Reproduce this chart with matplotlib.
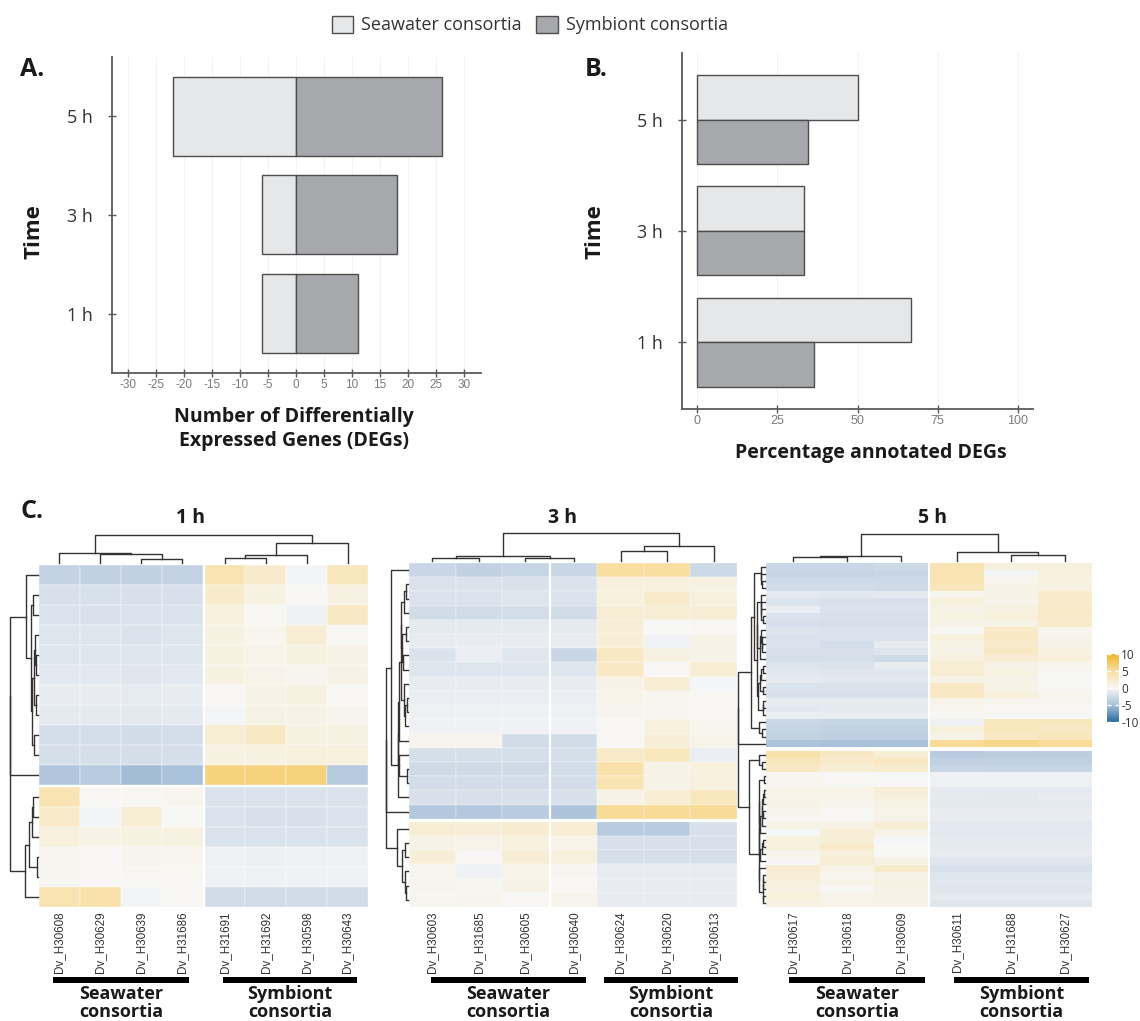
import numpy as np
import matplotlib
matplotlib.use("Agg")
import matplotlib.pyplot as plt
from matplotlib.colors import LinearSegmentedColormap, Normalize
from matplotlib.patches import Patch, Rectangle

plt.rcParams['font.family'] = ['Open Sans', 'DejaVu Sans']
plt.rcParams['axes.unicode_minus'] = False

# ---------------- data ----------------
times = ['1 h', '3 h', '5 h']
deg_seawater = [6, 6, 22]
deg_symbiont = [11, 18, 26]
pct_seawater = [66.7, 33.3, 50.0]
pct_symbiont = [36.4, 33.3, 34.6]

cols_1h = ['Dv_H30608', 'Dv_H30629', 'Dv_H30639', 'Dv_H31686',
           'Dv_H31691', 'Dv_H31692', 'Dv_H30598', 'Dv_H30643']
cols_3h = ['Dv_H30603', 'Dv_H31685', 'Dv_H30605', 'Dv_H30640',
           'Dv_H30624', 'Dv_H30620', 'Dv_H30613']
cols_5h = ['Dv_H30617', 'Dv_H30618', 'Dv_H30609',
           'Dv_H30611', 'Dv_H31688', 'Dv_H30627']

heat_1h = [
    [-3.3, -3.5, -3.5, -3.3, 4.0, 2.5, -0.3, 3.5],
    [-2.0, -2.1, -2.0, -2.0, 2.5, 1.2, 0.2, 1.2],
    [-1.8, -1.9, -1.8, -1.8, 1.5, 0.3, -0.5, 3.0],
    [-1.7, -1.7, -1.8, -1.7, 1.3, 0.5, 2.0, 0.3],
    [-1.6, -1.6, -1.7, -1.6, 1.2, 0.8, 1.3, 1.0],
    [-1.4, -1.4, -1.5, -1.4, 1.2, 0.8, 0.6, 1.0],
    [-1.0, -1.0, -1.1, -1.0, 0.2, 1.0, 1.2, 0.2],
    [-1.2, -1.2, -1.3, -1.2, -0.2, 1.0, 1.0, 0.6],
    [-2.4, -2.4, -2.5, -2.4, 2.0, 3.0, 1.3, 1.3],
    [-2.2, -2.2, -2.3, -2.2, 1.3, 1.3, 1.5, 1.5],
    [-4.5, -4.0, -5.2, -5.0, 6.5, 6.5, 6.5, -4.2],
    [4.0, 0.2, 0.3, 0.5, -1.8, -1.8, -1.8, -1.8],
    [2.8, -0.3, 2.0, 0.0, -1.8, -2.0, -2.0, -1.8],
    [1.5, 1.0, 1.3, 1.3, -1.8, -1.8, -1.8, -1.8],
    [0.5, 0.2, 0.6, 0.5, -0.6, -0.7, -0.6, -0.6],
    [0.4, 0.2, 0.3, 0.3, -0.5, -0.5, -0.5, -0.5],
    [4.0, 4.5, -0.3, 0.2, -2.5, -2.5, -2.5, -2.5],
]
top_1h = 11

heat_3h = [
    [-3.0, -3.5, -3.2, -3.0, 5.0, 5.0, -2.8],
    [-1.8, -1.8, -1.9, -1.8, 1.5, 1.5, 1.3],
    [-1.8, -1.8, -1.7, -1.8, 1.5, 2.5, 1.5],
    [-2.5, -2.5, -2.4, -2.5, 2.0, 2.0, 2.0],
    [-1.2, -1.2, -1.2, -1.2, 1.8, 0.0, 0.3],
    [-1.0, -0.9, -1.0, -1.0, 1.8, -0.5, 1.0],
    [-1.8, -0.8, -1.5, -3.0, 3.0, 1.2, 1.0],
    [-1.7, -1.7, -1.7, -1.6, 3.0, 0.2, 2.0],
    [-1.0, -1.0, -1.0, -1.0, 1.0, 2.0, -0.2],
    [-0.8, -0.8, -0.8, -0.8, 0.8, 0.5, 0.3],
    [-0.6, -0.6, -0.6, -0.6, 0.6, 0.4, 0.2],
    [-0.5, -0.5, -0.5, -0.5, 0.2, 1.5, 0.5],
    [0.6, 0.6, -2.5, -2.5, 0.3, 1.8, 0.8],
    [-2.2, -2.2, -2.2, -2.2, 2.8, 3.5, -0.8],
    [-2.6, -2.6, -2.6, -2.5, 4.5, 1.0, 1.5],
    [-2.4, -2.4, -2.4, -2.4, 4.0, 1.0, 1.5],
    [-2.0, -2.0, -2.0, -2.0, 1.0, 2.0, 3.5],
    [-4.3, -4.3, -4.0, -4.8, 5.5, 5.5, 5.5],
    [2.0, 1.8, 2.2, 2.0, -4.0, -4.0, -2.0],
    [1.0, 0.8, 1.5, 0.8, -2.0, -2.0, -2.0],
    [1.8, 0.2, 2.0, 1.5, -2.2, -2.2, -2.2],
    [0.5, -0.5, 0.8, 0.4, -1.0, -1.0, -1.0],
    [0.6, 0.4, 1.0, 0.3, -1.0, -1.0, -1.0],
    [0.4, 0.6, 0.2, 0.6, -1.0, -1.0, -1.0],
]
top_3h = 18

heat_5h = [
    [-3.0, -3.0, -2.8, 4.0, 1.5, 1.5],
    [-3.2, -3.2, -3.0, 4.0, -0.2, 1.5],
    [-2.8, -2.8, -2.8, 4.0, 0.5, 1.2],
    [-2.5, -2.5, -2.6, 3.5, 1.0, 1.3],
    [-1.2, -1.4, -1.3, 0.5, 1.0, 2.5],
    [-1.8, -2.0, -2.0, 1.5, 0.8, 2.5],
    [-0.8, -1.8, -1.8, 1.0, 1.2, 2.8],
    [-1.8, -2.0, -2.0, 1.2, 1.5, 2.8],
    [-2.0, -2.2, -2.2, 1.0, 1.0, 2.5],
    [-1.6, -1.8, -1.8, 0.3, 2.8, 0.5],
    [-1.8, -1.8, -1.8, 1.5, 3.0, 0.8],
    [-1.8, -2.4, -1.0, 1.0, 2.5, 1.0],
    [-2.0, -2.0, -1.6, 0.8, 3.0, 1.2],
    [-2.2, -2.2, -2.6, 1.5, 2.0, 1.5],
    [-1.6, -1.8, -1.0, 2.0, 1.0, 0.5],
    [-1.4, -1.5, -1.5, 2.0, 1.2, 0.3],
    [-1.2, -1.4, -1.4, 1.0, 1.0, 0.0],
    [-1.8, -1.8, -1.8, 3.0, 1.0, 0.3],
    [-2.0, -2.0, -2.0, 3.0, 1.5, 0.5],
    [-1.0, -1.0, -1.0, 0.8, 0.5, 0.4],
    [-1.4, -1.2, -1.2, 0.5, 0.3, 0.2],
    [-0.8, -0.8, -0.8, 0.3, 0.2, 0.2],
    [-3.0, -3.2, -3.2, -0.5, 3.5, 3.5],
    [-3.2, -3.4, -3.4, 1.5, 3.5, 3.0],
    [-3.4, -3.6, -3.6, 1.0, 3.0, 3.5],
    [-4.8, -5.0, -5.0, 5.5, 6.0, 5.5],
    [4.5, 3.0, 2.0, -4.0, -3.8, -3.8],
    [3.5, 2.5, 3.0, -3.5, -3.5, -3.5],
    [3.0, 2.0, 2.5, -3.0, -3.2, -3.2],
    [0.5, 0.2, -0.1, -0.5, -0.5, -0.5],
    [0.5, 0.3, 0.2, -0.6, -0.6, -0.6],
    [0.8, 0.8, 1.8, -1.2, -1.2, -1.2],
    [0.8, 0.8, 1.5, -1.2, -1.3, -1.0],
    [1.0, 0.6, 1.0, -1.3, -1.3, -1.3],
    [0.7, 0.2, 0.8, -1.0, -1.0, -1.0],
    [0.2, 0.3, 1.0, -1.0, -1.0, -1.0],
    [1.0, 1.0, 2.0, -1.4, -1.4, -1.4],
    [-0.1, 1.8, 1.0, -1.4, -1.4, -1.4],
    [1.5, 1.8, -0.2, -1.2, -1.2, -1.2],
    [1.5, 2.5, 0.0, -1.2, -1.2, -1.2],
    [0.8, 1.5, 0.0, -1.0, -1.0, -1.0],
    [0.2, 2.0, 1.0, -1.5, -1.5, -1.5],
    [2.2, 1.0, 2.5, -2.0, -2.0, -2.0],
    [1.8, 0.5, 1.0, -1.6, -1.6, -1.6],
    [1.5, 0.8, 1.2, -1.4, -1.4, -1.4],
    [1.2, 0.3, 1.0, -1.5, -1.5, -1.5],
    [1.5, 0.8, 1.0, -1.2, -1.2, -1.2],
    [1.2, 0.8, 0.8, -1.5, -1.5, -1.5],
]
top_5h = 26

cbar_ticks = [-10, -5, 0, 5, 10]
group_labels = ['Seawater\nconsortia', 'Symbiont\nconsortia']

# ---------------- styles ----------------
W, H = 1140, 1021
LIGHT = '#e6e7e8'
DARK = '#a6a8ab'
EDGE = '#4d4d4d'
SPINE = '#5a5a5a'
cmap = LinearSegmentedColormap.from_list(
    'bwy', [(0.0, '#2c6ca5'), (0.25, '#a9c1d9'), (0.5, '#f7f7f7'),
            (0.75, '#f8dfa2'), (1.0, '#f1b52d')])
norm = Normalize(-10, 10)

fig = plt.figure(figsize=(W / 100, H / 100), dpi=100)


def add_ax(x0, y0, x1, y1):
    return fig.add_axes([x0 / W, 1 - y1 / H, (x1 - x0) / W, (y1 - y0) / H])


def ftext(x, y, s, **kw):
    fig.text(x / W, 1 - y / H, s, **kw)


def style_bar_axes(ax):
    for s in ('top', 'right'):
        ax.spines[s].set_visible(False)
    for s in ('left', 'bottom'):
        ax.spines[s].set_color(SPINE)
        ax.spines[s].set_linewidth(1.3)
    ax.tick_params(axis='x', direction='inout', length=6, width=1, color=SPINE,
                   labelsize=8.5, labelcolor='#7a7a7a', pad=1)
    ax.tick_params(axis='y', direction='inout', length=6, width=1, color=SPINE,
                   labelsize=13, labelcolor='#333333', pad=11)
    for lab in ax.get_xticklabels():
        lab.set_family(['Liberation Sans', 'DejaVu Sans'])
    ax.set_axisbelow(True)
    ax.grid(axis='x', color='#f3f3f3', lw=0.8)


ypos = np.arange(len(times))

# ---------------- Panel A ----------------
axA = add_ax(112, 57, 481, 373)
axA.barh(ypos, -np.array(deg_seawater), height=0.8, color=LIGHT, edgecolor=EDGE, lw=1)
axA.barh(ypos, np.array(deg_symbiont), height=0.8, color=DARK, edgecolor=EDGE, lw=1)
axA.set_xlim(-32.8, 33)
axA.set_ylim(-0.6, 2.6)
axA.set_xticks(np.arange(-30, 31, 5))
axA.set_yticks(ypos)
axA.set_yticklabels(times)
style_bar_axes(axA)

# ---------------- Panel B ----------------
axB = add_ax(682, 53, 1033, 409)
axB.barh(ypos + 0.2, pct_seawater, height=0.4, color=LIGHT, edgecolor=EDGE, lw=1)
axB.barh(ypos - 0.2, pct_symbiont, height=0.4, color=DARK, edgecolor=EDGE, lw=1)
axB.set_xlim(-4.7, 104.7)
axB.set_ylim(-0.6, 2.6)
axB.set_xticks([0, 25, 50, 75, 100])
axB.set_yticks(ypos)
axB.set_yticklabels(times)
style_bar_axes(axB)
axB.tick_params(axis='x', labelsize=9)

bold = dict(fontweight='bold', color='#1a1a1a', ha='center', va='center')
ftext(32, 69, 'A.', fontsize=18, **bold)
ftext(596, 69, 'B.', fontsize=18, **bold)
ftext(32, 511, 'C.', fontsize=18, **bold)
ftext(34, 232, 'Time', fontsize=16, rotation=90, **bold)
ftext(595, 232, 'Time', fontsize=16, rotation=90, **bold)
ftext(294, 429, 'Number of Differentially\nExpressed Genes (DEGs)', fontsize=14,
      linespacing=1.3, **bold)
ftext(871, 453, 'Percentage annotated DEGs', fontsize=14, **bold)

# legend
handles = [Patch(facecolor=LIGHT, edgecolor=EDGE, label='Seawater consortia'),
           Patch(facecolor=DARK, edgecolor=EDGE, label='Symbiont consortia')]
fig.legend(handles=handles, loc='center', bbox_to_anchor=(530 / W, 1 - 25 / H),
           ncol=2, frameon=False, fontsize=13, handlelength=1.2, handleheight=1.1,
           handletextpad=0.45, columnspacing=0.8, labelcolor='#333333')


# ---------------- heatmaps ----------------
def adj_tree(X, coords):
    """Average-linkage clustering restricted to neighbours in display order."""
    X = np.asarray(X, float)
    clusters = [([i], coords[i], 0.0) for i in range(len(X))]
    links = []
    while len(clusters) > 1:
        best = None
        for k in range(len(clusters) - 1):
            a, b = clusters[k][0], clusters[k + 1][0]
            d = np.mean([np.linalg.norm(X[i] - X[j]) for i in a for j in b])
            if best is None or d < best[0]:
                best = (d, k)
        d, k = best
        A, B = clusters[k], clusters[k + 1]
        h = max(d, A[2], B[2])
        links.append((A[1], A[2], B[1], B[2], h))
        clusters[k:k + 2] = [(A[0] + B[0], (A[1] + B[1]) / 2, h)]
    return links


def heatmap_block(box, data, ntop, cols, title, title_x, col_dendro_top, row_dendro_left,
                  gap_col_px=2, gap_row_px=3, edge_alpha=0.2):
    M = np.asarray(data, float)
    nr, nc = M.shape
    nsw = len(cols) // 2
    x0, y0, x1, y1 = box
    wpx, hpx = x1 - x0, y1 - y0
    gx = gap_col_px * nc / (wpx - gap_col_px)
    gy = gap_row_px * nr / (hpx - gap_row_px)
    ax = add_ax(x0, y0, x1, y1)
    for r0, r1 in [(0, ntop), (ntop, nr)]:
        for c0, c1 in [(0, nsw), (nsw, nc)]:
            xs = np.arange(c0, c1 + 1) + (gx if c0 > 0 else 0)
            ys = np.arange(r0, r1 + 1) + (gy if r0 > 0 else 0)
            if edge_alpha > 0:
                ax.pcolormesh(xs, ys, M[r0:r1, c0:c1], cmap=cmap, norm=norm,
                              edgecolors=(1, 1, 1, edge_alpha), linewidth=0.3)
            else:
                ax.pcolormesh(xs, ys, M[r0:r1, c0:c1], cmap=cmap, norm=norm)
    ax.set_xlim(0, nc + gx)
    ax.set_ylim(nr + gy, 0)
    for s in ax.spines.values():
        s.set_visible(False)
    xc = np.arange(nc) + 0.5 + np.where(np.arange(nc) >= nsw, gx, 0)
    yc = np.arange(nr) + 0.5 + np.where(np.arange(nr) >= ntop, gy, 0)
    ax.set_xticks(xc)
    ax.set_xticklabels(cols, rotation=90, fontsize=8.4, color='#333333',
                       family=['Liberation Sans', 'DejaVu Sans'])
    ax.tick_params(axis='x', length=0, pad=3)
    ax.set_yticks([])

    # column dendrogram
    axc = add_ax(x0, col_dendro_top, x1, y0 - 2)
    links = adj_tree(M.T, xc)
    hmax = max(l[4] for l in links)
    for pa, ha, pb, hb, h in links:
        axc.plot([pa, pa, pb, pb], [ha, h, h, hb], color='#333333', lw=1, clip_on=False)
    axc.set_xlim(0, nc + gx)
    axc.set_ylim(0, hmax)
    axc.axis('off')

    # row dendrogram
    axr = add_ax(row_dendro_left, y0, x0 - 1, y1)
    links = adj_tree(M, yc)
    hmax = max(l[4] for l in links)
    for pa, ha, pb, hb, h in links:
        axr.plot([ha, h, h, hb], [pa, pa, pb, pb], color='#333333', lw=1, clip_on=False)
    axr.set_ylim(nr + gy, 0)
    axr.set_xlim(hmax, 0)
    axr.axis('off')

    ftext(title_x, 518, title, fontsize=14, **bold)
    return ax


heatmap_block((39, 565, 368, 907), heat_1h, top_1h, cols_1h, '1 h', 190, 535, 10,
              gap_row_px=2, edge_alpha=0.2)
heatmap_block((409, 563, 737, 907), heat_3h, top_3h, cols_3h, '3 h', 562, 533, 386,
              gap_row_px=3, edge_alpha=0.15)
heatmap_block((766, 563, 1092, 907), heat_5h, top_5h, cols_5h, '5 h', 933, 534, 738,
              gap_row_px=4, edge_alpha=0.0)

# group bars under column labels (pixel spans)
group_spans = [(53, 189), (223, 357), (431, 586), (604, 738), (789, 925), (954, 1089)]
for i, (xa, xb) in enumerate(group_spans):
    axg = add_ax(xa, 977, xb, 983)
    axg.add_patch(Rectangle((0, 0), 1, 1, color='black', transform=axg.transAxes))
    axg.axis('off')
    ftext((xa + xb) / 2, 1003, group_labels[i % 2], fontsize=13, linespacing=1.05, **bold)

# colorbar
axcb = add_ax(1107, 654, 1119, 722)
axcb.imshow(np.linspace(10, -10, 256).reshape(-1, 1), extent=[0, 1, -10, 10],
            aspect='auto', cmap=cmap, norm=norm)
axcb.set_xticks([])
axcb.set_yticks(cbar_ticks)
axcb.set_yticklabels([str(t) for t in cbar_ticks])
axcb.yaxis.tick_right()
axcb.tick_params(axis='y', left=True, right=True, direction='in', color='white',
                 length=3, width=1, labelsize=8.5, labelcolor='#333333', pad=1.5)
for s in axcb.spines.values():
    s.set_visible(False)

fig.savefig('out.png', dpi=100)
